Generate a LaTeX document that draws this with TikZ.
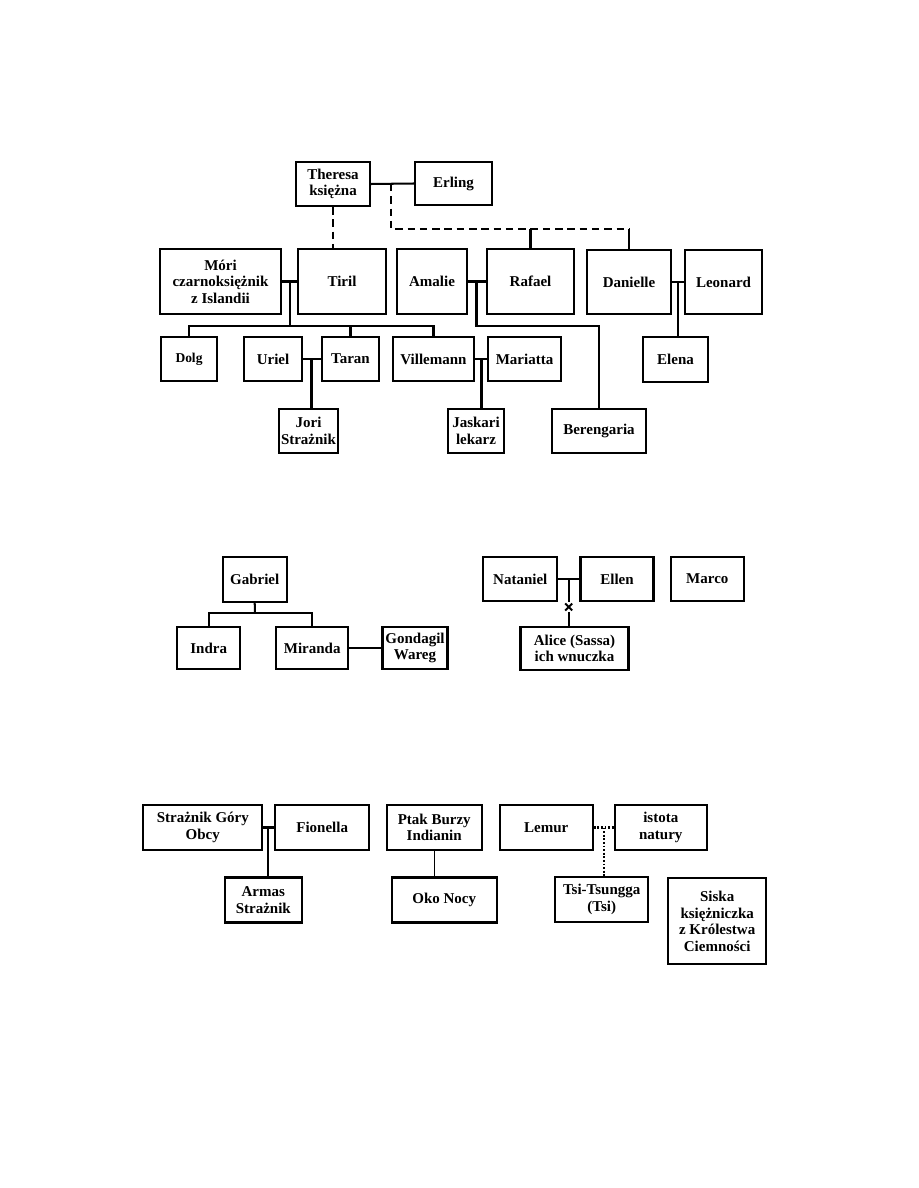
\documentclass[tikz,border=0pt]{standalone}
\usepackage{fontspec}
\setmainfont{Liberation Serif}
\begin{document}
\begin{tikzpicture}[x=0.6667pt, y=-0.6667pt,
  box/.style={draw, line width=1.35pt, rectangle, inner sep=1pt, align=center,
    font=\bfseries\fontsize{10}{11}\selectfont},
  sz/.style 2 args={minimum width={#1*0.6667pt}, minimum height={#2*0.6667pt}},
  conn/.style={line width=1.35pt},
  thinconn/.style={line width=0.9pt},
  dashconn/.style={line width=1.35pt, dash pattern=on 5pt off 3.2pt},
  dotconn/.style={line width=1.4pt, dash pattern=on 1.2pt off 1.2pt}]
\useasboundingbox (0,0) rectangle (918,1188);
% ---------- top tree ----------
\node[box, sz={74}{44}] (theresa) at (333,184) {Theresa\\księżna};
\node[box, sz={77}{43}] (erling) at (453.5,183.5) {Erling};
\node[box, sz={121}{65}] (mori) at (220.5,281.5) {Móri\\czarnoksiężnik\\z Islandii};
\node[box, sz={88}{65}] (tiril) at (342,281.5) {Tiril};
\node[box, sz={70}{65}] (amalie) at (432,281.5) {Amalie};
\node[box, sz={87}{65}] (rafael) at (530.5,281.5) {Rafael};
\node[box, sz={84}{64}] (danielle) at (629,282) {Danielle};
\node[box, sz={77}{64}] (leonard) at (723.5,282) {Leonard};
\node[box, sz={56}{44}, font=\bfseries\fontsize{9}{10}\selectfont] (dolg) at (189,359) {Dolg};
\node[box, sz={58}{44}] (uriel) at (273,359) {Uriel};
\node[box, sz={57}{44}] (taran) at (350.5,359) {Taran};
\node[box, sz={81}{44}] (villemann) at (433.5,359) {Villemann};
\node[box, sz={73}{44}] (mariatta) at (524.5,359) {Mariatta};
\node[box, sz={65}{45}] (elena) at (675.5,359.5) {Elena};
\node[box, sz={59}{44}] (jori) at (308.5,431) {Jori\\Strażnik};
\node[box, sz={56}{44}] (jaskari) at (476,431) {Jaskari\\lekarz};
\node[box, sz={94}{44}] (berengaria) at (599,431) {Berengaria};
% connectors
\draw[conn] (theresa.east) -- (erling.west);
\coordinate (te) at (391,184);
\coordinate (tb) at (629,229);
\draw[dashconn] (te) |- (tb);
\draw[conn] (tb) -- (danielle.north);
\draw[conn] (rafael.north) -- (rafael.north |- tb);
\draw[dashconn] (theresa.south) -- (theresa.south |- tiril.north);
\draw[conn] (mori.east) -- (tiril.west);
\coordinate (mt) at (290,281.5);
\coordinate (bus) at (290,326);
\draw[conn] (mt) -- (bus);
\draw[conn] (dolg.north) |- (bus);
\draw[conn] (villemann.north) |- (bus);
\draw[conn] (taran.north) -- (taran.north |- bus);
\draw[conn] (amalie.east) -- (rafael.west);
\coordinate (ar) at (476.5,281.5);
\coordinate (ab) at (476.5,326);
\draw[conn] (ar) -- (ab) -| (berengaria.north);
\draw[conn] (danielle.east) -- (leonard.west);
\coordinate (dl) at (678,282);
\draw[conn] (dl) -- (dl |- elena.north);
\draw[conn] (uriel.east) -- (taran.west);
\coordinate (ut) at (311.5,359);
\draw[conn] (ut) -- (ut |- jori.north);
\draw[conn] (villemann.east) -- (mariatta.west);
\coordinate (vm) at (481.5,359);
\draw[conn] (vm) -- (vm |- jaskari.north);
% ---------- middle ----------
\node[box, sz={64}{45}] (gabriel) at (254.7,579.3) {Gabriel};
\node[box, sz={63}{42}] (indra) at (208.7,648) {Indra};
\node[box, sz={72}{42}] (miranda) at (312.2,648) {Miranda};
\node[box, sz={65}{42}] (gondagil) at (415,648) {Gondagil\\Wareg};
\coordinate (gb) at (255,613.3);
\draw[conn] (gabriel.south) -- (gb);
\draw[conn] (indra.north) |- (gb);
\draw[conn] (miranda.north) |- (gb);
\draw[thinconn] (miranda.east) -- (gondagil.west);
\node[box, sz={74}{43.5}] (nataniel) at (520.3,579) {Nataniel};
\node[box, sz={73}{43.5}] (ellen) at (617,579) {Ellen};
\node[box, sz={73}{43.5}] (marco) at (707.3,579) {Marco};
\node[box, sz={108}{43}] (alice) at (574.5,648.5) {Alice (Sassa)\\ich wnuczka};
\draw[thinconn] (nataniel.east) -- (ellen.west);
\coordinate (ne) at (568.7,579);
\coordinate (nx) at (568.7,607);
\draw[conn] (ne) -- (568.7,601.5);
\draw[conn] (nx) +(-3.5,-3.5) -- +(3.5,3.5);
\draw[conn] (nx) +(-3.5,3.5) -- +(3.5,-3.5);
\draw[conn] (568.7,612) -- (alice.north -| nx);
% ---------- bottom ----------
\node[box, sz={119}{45}] (straz) at (202.8,827.5) {Strażnik Góry\\Obcy};
\node[box, sz={94}{45}] (fionella) at (322.2,827.5) {Fionella};
\node[box, sz={77}{45}] (armas) at (263.3,900) {Armas\\Strażnik};
\draw[conn] (straz.east) -- (fionella.west);
\coordinate (sf) at (268.3,827.5);
\draw[conn] (sf) -- (sf |- armas.north);
\node[box, sz={95}{45}] (ptak) at (434.2,827.5) {Ptak Burzy\\Indianin};
\node[box, sz={105}{45}] (oko) at (444.2,900) {Oko Nocy};
\draw[thinconn] (ptak.south) -- (ptak.south |- oko.north);
\node[box, sz={93}{45}] (lemur) at (546.3,827.5) {Lemur};
\node[box, sz={92}{45}] (istota) at (660.8,827.5) {istota\\natury};
\node[box, sz={93}{45}] (tsi) at (601.7,899.5) {Tsi-Tsungga\\(Tsi)};
\node[box, sz={98}{86}] (siska) at (717.2,921.2) {Siska\\księżniczka\\z Królestwa\\Ciemności};
\draw[dotconn] (lemur.east) -- (istota.west);
\coordinate (li) at (604,827.5);
\draw[dotconn] (li) -- (li |- tsi.north);
\end{tikzpicture}
\end{document}
